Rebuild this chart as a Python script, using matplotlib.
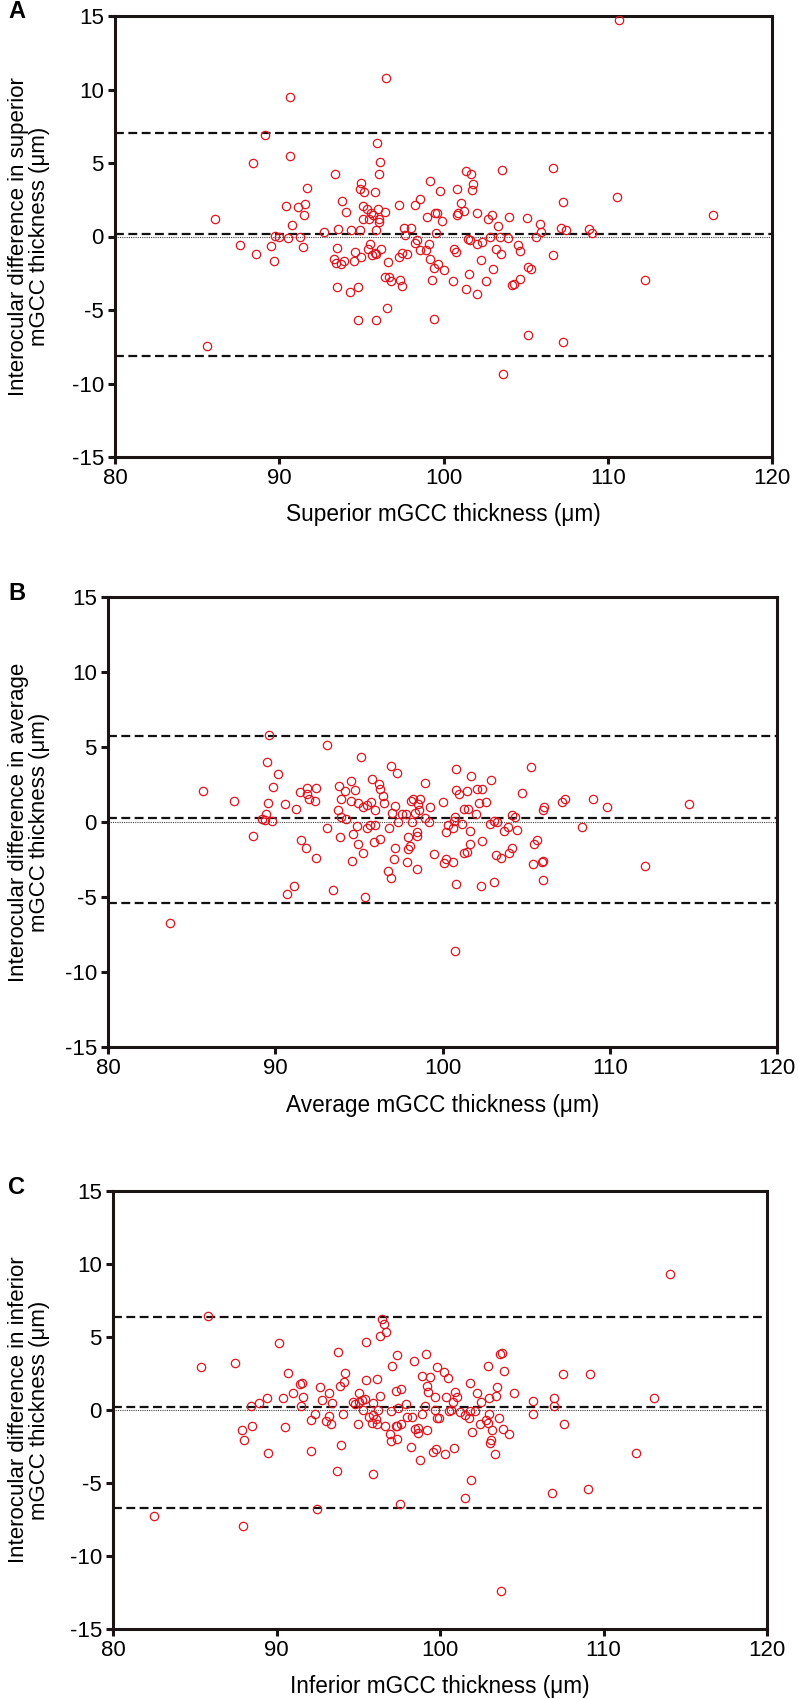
import matplotlib
matplotlib.use("Agg")
import matplotlib.pyplot as plt

plt.rcParams['font.family'] = ['Liberation Sans', 'DejaVu Sans']
plt.rcParams['axes.unicode_minus'] = False

# Superior mGCC (panel A)
sup_x = [86.09, 87.59, 88.56, 88.42, 89.11, 89.50, 89.70, 89.74, 89.98, 90.41,
         90.53, 90.67, 90.65, 90.80, 91.16, 91.26, 91.42, 91.49, 91.57, 91.67,
         92.72, 93.41, 93.49, 93.35, 93.43, 93.55, 93.53, 93.78, 93.80, 93.94,
         94.06, 94.33, 94.37, 94.53, 94.63, 94.79, 94.93, 94.96, 94.93, 95.16,
         95.12, 94.96, 95.10, 95.32, 95.42, 95.48, 95.52, 95.58, 95.62, 95.73,
         95.85, 95.87, 95.83, 95.89, 95.97, 95.99, 96.05, 96.07, 96.09, 96.15,
         96.19, 96.42, 96.46, 96.50, 96.64, 96.70, 96.82, 97.27, 97.29, 97.35,
         97.45, 97.45, 97.61, 97.67, 97.76, 98.02, 98.27, 98.27, 98.41, 98.55,
         98.57, 98.93, 98.98, 99.10, 99.16, 99.20, 99.32, 99.42, 99.48, 99.54,
         99.60, 99.64, 99.81, 99.93, 100.05, 100.84, 100.84, 100.90, 101.07, 101.23,
         101.37, 101.67, 101.80, 101.75, 101.51, 101.63, 100.66, 100.76, 102.04, 102.04,
         102.36, 102.30, 101.55, 101.35, 102.06, 100.58, 102.59, 102.73, 102.93, 102.83,
         103.17, 103.33, 103.43, 103.51, 102.99, 103.56, 103.97, 103.95, 104.19, 104.27,
         104.54, 104.66, 104.68, 105.08, 105.16, 105.32, 105.61, 105.87, 105.91, 106.69,
         106.69, 107.29, 107.13, 107.43, 108.87, 109.04, 110.58, 110.71, 112.29, 116.41,
         85.62, 94.81, 95.89, 96.54, 99.42, 105.12, 107.25, 103.62]
sup_y = [1.16, -0.57, -1.16, 4.97, 6.92, -0.68, -1.70, 0.02, -0.02, 2.06,
         -0.07, 9.52, 5.46, 0.77, 2.00, 0.00, -0.73, 1.45, 2.18, 3.27,
         0.32, 4.26, -0.77, -1.52, -1.79, 0.52, -3.42, -1.90, 2.40, -1.68,
         1.66, -3.79, 0.43, -1.68, -1.04, -3.42, 0.43, 3.63, 3.24, 3.04,
         2.06, -1.38, 1.22, 1.90, -0.86, 1.22, -0.54, 1.61, -1.29, 1.47,
         3.02, 0.43, -1.11, -1.16, 6.33, 1.84, 1.22, 1.00, 4.24, 5.08,
         -0.88, 1.70, -2.77, 10.75, -1.75, -2.77, -3.04, -1.41, 2.15, -2.93,
         -1.11, -3.38, 0.57, 0.09, -1.22, 0.57, 2.15, -0.45, -0.25, 2.56,
         -0.93, -0.93, 1.34, -0.50, -1.54, 3.76, -2.93, -2.15, 1.61, 0.25,
         1.61, -1.90, 3.11, 1.04, -2.29, 3.24, 1.43, 1.61, 2.29, 1.72,
         4.44, 4.22, 3.58, 3.13, -0.20, -0.25, -0.88, -1.04, 1.61, -0.50,
         -0.36, -1.59, -2.52, -3.58, -3.92, -3.04, -3.04, 1.22, 1.45, -0.02,
         -0.84, 0.70, -0.05, -1.18, -2.20, 4.51, 1.32, -0.11, -3.31, -3.24,
         -0.59, -1.02, -2.88, 1.27, -2.09, -2.20, 0.00, 0.84, 0.34, 4.65,
         -1.25, 2.34, 0.57, 0.41, 0.50, 0.25, 2.68, 14.72, -2.99, 1.47,
         -7.48, -5.71, -5.71, -4.85, -5.62, -6.71, -7.17, -9.37]
sup_lines = [0.18, 7.07, -8.16]  # mean, upper, lower limit

# Average mGCC (panel B)
avg_x = [85.71, 87.54, 88.64, 89.63, 89.51, 90.15, 89.85, 89.57, 89.45, 89.19,
         89.39, 89.79, 90.61, 91.23, 91.49, 91.91, 91.87, 92.01, 92.39, 92.46,
         91.53, 91.81, 92.42, 93.10, 93.08, 93.82, 93.94, 93.76, 93.96, 94.18,
         94.26, 93.88, 94.55, 94.77, 94.55, 94.93, 95.25, 95.11, 94.67, 94.89,
         94.97, 95.25, 94.59, 95.51, 95.75, 95.77, 96.19, 96.27, 96.43, 96.49,
         95.95, 95.51, 95.65, 95.99, 95.91, 96.25, 96.81, 96.95, 97.30, 97.16,
         97.01, 97.32, 97.14, 97.56, 97.80, 97.10, 97.92, 98.04, 97.92, 98.12,
         98.24, 98.18, 98.38, 98.48, 98.48, 98.52, 98.60, 98.64, 98.98, 98.94,
         99.20, 99.28, 99.50, 100.05, 100.19, 100.23, 100.31,
         100.79, 101.71, 102.88, 100.80, 100.96, 101.49, 102.05, 102.39, 102.19, 102.62,
         101.27, 101.53, 102.01, 100.75, 100.67, 101.15, 101.63, 100.61, 102.37, 101.67,
         101.29, 101.47, 102.82, 103.10, 103.24, 103.66, 103.94, 104.44, 104.18, 104.36,
         104.74, 105.31, 103.22, 103.98, 104.16, 105.49, 105.65, 105.99, 106.08, 107.15,
         107.35, 108.32, 109.02, 109.82, 114.76, 106.00,
         96.72, 96.92, 97.86, 98.50, 100.11, 90.69, 91.11, 93.46, 95.35, 83.73,
         100.73, 100.83, 102.32, 103.06, 106.03, 105.95, 105.39, 112.13, 100.63, 103.50]
avg_y = [2.09, 1.38, -0.93, 5.78, 4.00, 3.18, 2.36, 1.24, 0.53, 0.18,
         0.13, 0.04, 1.22, 0.84, 1.98, 2.27, 1.84, 1.53, 1.38, 2.29,
         -1.18, -1.73, -2.42, 5.11, -0.42, 2.42, 1.53, 0.82, 0.36, 2.07,
         0.22, -0.98, 2.73, 2.16, 1.40, 1.24, 1.02, 4.33, -0.82, -0.24,
         -1.47, -2.07, -2.60, 1.11, 1.31, 2.87, 2.51, 2.18, 1.76, 1.29,
         0.82, -0.42, -0.20, -0.20, -1.33, -1.11, -0.38, 3.76, 3.24, 1.07,
         0.58, -0.02, -1.71, 0.53, 0.53, -2.44, -0.98, -1.58, -1.78, 1.40,
         1.51, 0.02, 0.58, -0.64, -0.93, 1.18, 0.78, 1.56, 2.62, 0.29,
         0.02, 0.98, -2.16, 1.33, -2.49, -0.67, -0.20,
         3.53, 3.04, 2.80, 2.11, 1.84, 2.09, 2.18, 2.22, 1.29, 1.36,
         0.84, 0.89, 0.53, 0.36, 0.09, -0.16, -0.58, -0.40, -1.24, -1.49,
         -2.09, -1.98, -0.13, 0.04, 0.00, -0.58, -0.31, -0.53, 0.49, 0.36,
         1.93, 3.69, -2.22, -2.04, -1.73, -1.44, -1.20, 0.80, 1.00, 1.31,
         1.51, -0.31, 1.51, 1.00, 1.18, -2.60,
         -3.24, -3.71, -2.69, -3.13, -2.76, -4.82, -4.24, -4.56, -5.00, -6.73,
         -8.60, -4.13, -4.24, -4.00, -3.87, -2.69, -2.80, -2.93, -2.69, -2.42]
avg_lines = [0.27, 5.73, -5.40]

# Inferior mGCC (panel C)
inf_x = [85.37, 85.84, 87.47, 88.43, 88.94, 89.41, 88.53, 87.86, 90.16, 90.41,
         90.53, 90.71, 90.98, 91.43, 91.57, 91.49, 91.63, 92.12, 92.37, 92.63,
         92.80, 93.20, 93.02, 93.24, 93.35, 93.39, 93.78, 93.88, 94.12, 94.22,
         94.04, 94.65, 94.80, 95.04, 95.00, 95.02, 95.22, 95.39, 95.47, 95.47,
         95.27, 95.63, 95.90, 95.90, 95.86, 96.08, 96.12, 96.18, 96.16, 96.33,
         96.33, 96.43, 96.57, 96.67, 96.61, 97.00, 97.06, 97.35, 97.31, 97.29,
         97.37, 97.45, 97.61, 97.63, 97.90, 97.98, 98.31, 98.43, 98.47, 98.67,
         98.90, 98.88, 99.14, 99.08, 99.20, 99.22, 99.24, 99.41, 99.67, 99.69,
         99.80, 99.80, 99.94, 100.24, 100.35, 100.47, 100.55,
         114.04, 103.67, 103.80, 102.94, 103.92, 101.84, 103.51, 104.51, 102.27, 103.02,
         103.43, 102.49, 100.90, 101.06, 100.82, 100.67, 101.22, 101.53, 101.84, 102.16,
         101.78, 102.98, 102.82, 102.43, 102.94, 103.59, 103.88, 105.67, 105.69, 106.99,
         106.99, 107.55, 109.16, 107.61, 113.08,
         88.02, 89.49, 92.12, 93.96, 93.67, 95.90, 96.94, 96.98, 97.39, 98.22,
         98.63, 98.78, 99.55, 99.73, 100.31, 97.53, 92.49, 82.49, 87.94,
         101.98, 103.18, 104.22, 103.13, 103.08, 103.37, 100.88, 101.90, 101.55, 106.84,
         109.04, 111.98, 103.71]
inf_y = [2.97, 6.42, 3.24, 0.27, 0.48, 0.82, -1.10, -1.37, 4.59, 0.80,
         -1.19, 2.51, 1.19, 1.76, 1.87, 0.25, 0.89, -0.68, -0.25, 1.60,
         0.66, 1.19, -0.75, -0.39, -0.94, 0.46, 3.95, 1.64, 1.94, 2.51,
         -0.25, 0.55, 0.39, 1.16, -0.94, 0.57, 0.66, 0.73, 4.63, 2.08,
         0.02, -0.46, 0.46, -0.37, -0.91, -0.62, 2.15, 0.00, -0.96, 5.07,
         0.98, 6.26, 5.87, 5.37, -1.12, -0.07, 3.04, 3.77, 1.30, -1.10,
         -1.12, 0.11, 1.42, -0.98, 0.39, -0.46, -0.46, 3.36, -1.28, -1.26,
         2.31, -0.25, 3.81, 0.30, -1.37, 1.64, 1.23, 2.28, 0.87, 0.00,
         2.97, -0.57, -0.57, 2.58, 0.91, 2.19, -0.05,
         9.29, 3.81, 3.93, 3.01, 2.69, 1.83, 1.58, 1.14, 1.16, 0.84,
         0.96, 0.57, 1.23, 0.89, 0.57, 0.00, -0.14, -0.37, -0.07, -0.07,
         -0.53, -0.25, -0.66, -0.98, -0.91, -0.57, -1.32, 0.62, -0.30, 0.84,
         0.27, 2.44, 2.44, -0.94, 0.82,
         -2.08, -2.92, -2.81, -2.37, -4.18, -4.36, -1.62, -2.12, -1.96, -2.53,
         -1.55, -3.42, -2.85, -2.69, -3.04, -6.46, -6.80, -7.24, -7.97,
         -1.51, -1.37, -1.67, -2.08, -2.26, -3.04, -2.63, -4.79, -6.00, -5.68,
         -5.39, -2.92, -12.40]
inf_lines = [0.22, 6.37, -6.71]

W, H = 798, 1700


def panel(rect, x, y, lines, xlabel, ylabel, letter):
    left, top, right, bottom = rect
    ax = fig.add_axes([left / W, 1 - bottom / H, (right - left) / W,
                       (bottom - top) / H])
    ax.axhline(0, color='#444444', lw=0.8, ls=(0, (1, 1)), zorder=1)
    for v in lines:
        ax.axhline(v, color='#111111', lw=1.6, ls=(0, (4, 2)), zorder=2)
    ax.plot(x, y, 'o', mfc='none', mec='#e0141e', ms=6, mew=0.9, zorder=3)
    ax.set_xlim(80, 120)
    ax.set_ylim(-15, 15)
    ax.set_xticks(range(80, 121, 10))
    ax.set_yticks(range(-15, 16, 5))
    for s in ax.spines.values():
        s.set_linewidth(2.2)
        s.set_color('#1a1414')
    ax.tick_params(direction='out', length=5, width=2.2, labelsize=16,
                   color='#1a1414', pad=3)
    ax.set_xlabel(xlabel, fontsize=16.3)
    ax.xaxis.set_label_coords(0.5, -0.104)
    ax.set_ylabel(ylabel, fontsize=16, linespacing=1.0)
    ax.yaxis.set_label_coords((50 - left) / (right - left), 0.5)
    fig.text(8 / W, 1 - (top - 4) / H, letter, fontsize=17,
             fontweight='bold', va='center', ha='left')
    return ax


fig = plt.figure(figsize=(W / 100, H / 100), dpi=100)

panel((115, 16, 772, 457), sup_x, sup_y, sup_lines,
      'Superior mGCC thickness (μm)',
      'Interocular difference in superior\nmGCC thickness (μm)', 'A')
panel((108, 597, 777, 1047), avg_x, avg_y, avg_lines,
      'Average mGCC thickness (μm)',
      'Interocular difference in average\nmGCC thickness (μm)', 'B')
panel((113, 1191, 767, 1629), inf_x, inf_y, inf_lines,
      'Inferior mGCC thickness (μm)',
      'Interocular difference in inferior\nmGCC thickness (μm)', 'C')

fig.savefig('out.png', dpi=100)
